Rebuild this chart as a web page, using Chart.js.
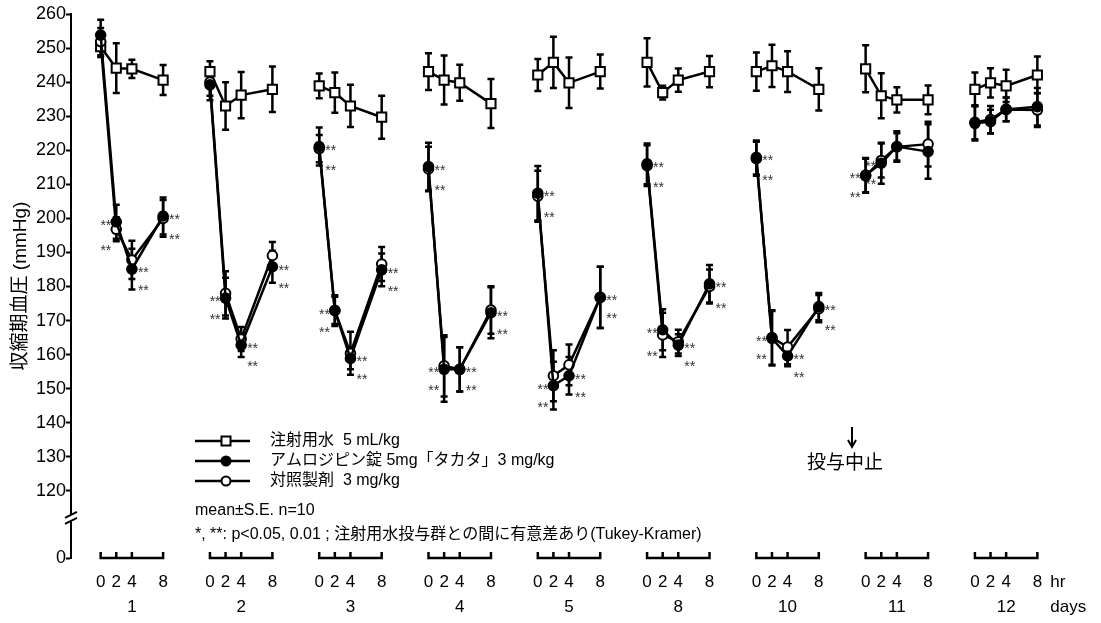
<!DOCTYPE html>
<html>
<head>
<meta charset="utf-8">
<script src="https://cdn.jsdelivr.net/npm/chart.js@4.4.1/dist/chart.umd.min.js"></script>
<style>
  html, body { margin: 0; padding: 0; background: #fff; }
  canvas { display: block; }
</style>
</head>
<body>
<canvas id="bp" width="1101" height="623"></canvas>
<script>
// Study days and sampling times (hours after dosing)
const days = ['1', '2', '3', '4', '5', '8', '10', '11', '12'];
const hours = [0, 2, 4, 8];

// Y axis: 120–260 mmHg, plus a "0" below the axis break
const yTickValues = [120, 130, 140, 150, 160, 170, 180, 190, 200, 210, 220, 230, 240, 250, 260];
const yZeroLabel = '0';

// 注射用水 5 mL/kg — mean and S.E. per day (rows) and hour (columns)
const waterMean = [
  [250.4, 244.1, 243.9, 240.6],
  [243.1, 233.0, 236.2, 237.9],
  [238.9, 236.9, 233.0, 229.7],
  [243.1, 240.6, 239.8, 233.7],
  [242.1, 245.8, 239.8, 243.1],
  [245.8, 236.9, 240.6, 243.1],
  [243.1, 244.8, 243.1, 237.9],
  [243.9, 236.0, 234.8, 234.8],
  [237.9, 239.8, 238.9, 242.1]
];
const waterSE = [
  [3.0, 7.3, 2.7, 4.4],
  [3.0, 7.0, 6.8, 6.7],
  [3.6, 5.9, 6.2, 6.3],
  [5.4, 7.2, 5.3, 7.2],
  [4.7, 7.5, 7.4, 5.0],
  [7.1, 2.0, 3.4, 4.6],
  [5.6, 6.2, 6.0, 6.2],
  [6.9, 6.6, 3.7, 4.2],
  [4.9, 4.3, 4.7, 5.4]
];

// アムロジピン錠 5mg「タカタ」3 mg/kg
const amloMean = [
  [253.8, 199.0, 185.1, 200.7],
  [239.2, 176.6, 162.8, 185.8],
  [221.1, 172.9, 158.9, 184.9],
  [215.2, 155.7, 155.7, 172.3],
  [207.4, 150.9, 153.8, 176.8],
  [216.0, 167.3, 162.8, 180.8],
  [217.9, 164.8, 159.6, 174.1],
  [212.7, 216.2, 221.1, 219.6],
  [227.9, 228.4, 232.0, 232.8]
];
const amloSE = [
  [4.5, 5.0, 6.0, 5.4],
  [4.5, 6.0, 3.5, 4.7],
  [5.6, 4.5, 3.2, 4.8],
  [7.0, 9.5, 6.5, 7.5],
  [8.0, 7.0, 5.5, 9.0],
  [6.0, 6.0, 3.2, 5.5],
  [5.0, 8.0, 3.0, 4.0],
  [5.0, 6.0, 4.5, 8.0],
  [5.0, 3.5, 3.5, 5.5]
];

// 対照製剤 3 mg/kg
const refMean = [
  [251.9, 196.8, 187.8, 200.0],
  [240.0, 178.0, 164.6, 189.1],
  [220.5, 173.0, 160.4, 186.6],
  [214.5, 156.7, 155.7, 173.1],
  [206.5, 153.8, 157.0, 176.8],
  [215.5, 165.8, 163.8, 180.0],
  [217.5, 165.0, 162.2, 173.5],
  [212.5, 217.0, 221.0, 221.8],
  [228.2, 229.0, 232.0, 231.8]
];
const refSE = [
  [4.0, 3.5, 5.6, 5.4],
  [4.0, 6.5, 3.5, 4.0],
  [4.0, 4.0, 6.3, 5.0],
  [6.5, 9.0, 6.5, 7.0],
  [7.5, 7.5, 6.0, 9.0],
  [6.0, 6.5, 3.5, 5.0],
  [5.0, 8.0, 5.0, 4.0],
  [5.0, 5.0, 4.0, 6.6],
  [5.0, 4.0, 3.5, 5.0]
];

// Significance vs. 注射用水 group
const amloSig = [
  ['', '**', '**', '**'],
  ['', '**', '**', '**'],
  ['**', '**', '**', '**'],
  ['**', '**', '**', '**'],
  ['**', '**', '**', '**'],
  ['**', '**', '**', '**'],
  ['**', '**', '**', '**'],
  ['**', '**', '', ''],
  ['', '', '', '']
];
const refSig = [
  ['', '**', '**', '**'],
  ['', '**', '**', '**'],
  ['**', '**', '**', '**'],
  ['**', '**', '**', '**'],
  ['**', '**', '**', '**'],
  ['**', '**', '**', '**'],
  ['**', '**', '**', '**'],
  ['**', '**', '', ''],
  ['', '', '', '']
];

const seriesLabels = ['注射用水  5 mL/kg', 'アムロジピン錠 5mg「タカタ」3 mg/kg', '対照製剤  3 mg/kg'];
const noteLines = ['mean±S.E. n=10', '*, **: p<0.05, 0.01 ; 注射用水投与群との間に有意差あり(Tukey-Kramer)'];
const stopLabel = '投与中止';
const stopDayIndex = 7;      // dosing stopped before day 11
const yTitle = '収縮期血圧 (mmHg)';

// ---- layout helpers ----
const GROUP_SPAN = 14;              // x units between day groups
const Y_BASE = 100.3;               // axis value where the "0" sits below the break
const FONT = "'Liberation Sans', Arial, 'Noto Sans CJK JP', sans-serif";
const LW = 2.5;
const xOf = (i, j) => i * GROUP_SPAN + hours[j];

function toPoints(means) {
  const pts = [];
  means.forEach((row, i) => {
    row.forEach((v, j) => pts.push({ x: xOf(i, j), y: v }));
    if (i < means.length - 1) pts.push({ x: i * GROUP_SPAN + 11, y: null });
  });
  return pts;
}

const errorSets = [
  { mean: waterMean, se: waterSE },
  { mean: refMean, se: refSE },
  { mean: amloMean, se: amloSE }
];

// Asterisks, error bars drawn beneath the lines and markers
const underlayPlugin = {
  id: 'underlay',
  beforeDatasetsDraw(chart) {
    const { ctx, scales: { x, y } } = chart;
    ctx.save();
    // significance marks
    ctx.font = '14px ' + FONT;
    ctx.fillStyle = '#333';
    ctx.textBaseline = 'alphabetic';
    days.forEach((d, i) => {
      hours.forEach((h, j) => {
        const px = x.getPixelForValue(xOf(i, j));
        const yA = y.getPixelForValue(amloMean[i][j]);
        const yR = y.getPixelForValue(refMean[i][j]);
        const left = j === 1 || (i === stopDayIndex && j === 0);
        ctx.textAlign = left ? 'right' : 'left';
        const tx = left ? px - 5 : px + 6;
        if (amloSig[i][j]) ctx.fillText(amloSig[i][j], tx, yA + 8);
        if (refSig[i][j]) ctx.fillText(refSig[i][j], tx, Math.max(yA, yR) + 26);
      });
    });
    // error bars
    ctx.strokeStyle = '#000';
    ctx.lineWidth = LW;
    errorSets.forEach(s => {
      s.mean.forEach((row, i) => row.forEach((m, j) => {
        const px = x.getPixelForValue(xOf(i, j));
        const top = y.getPixelForValue(m + s.se[i][j]);
        const bot = y.getPixelForValue(m - s.se[i][j]);
        ctx.beginPath();
        ctx.moveTo(px, top); ctx.lineTo(px, bot);
        ctx.moveTo(px - 3.5, top); ctx.lineTo(px + 3.5, top);
        ctx.moveTo(px - 3.5, bot); ctx.lineTo(px + 3.5, bot);
        ctx.stroke();
      }));
    });
    ctx.restore();
  }
};

// Axis break, time brackets, hour/day labels, legend, notes
const overlayPlugin = {
  id: 'overlay',
  afterDraw(chart) {
    const { ctx, chartArea, scales: { x, y } } = chart;
    ctx.save();
    const axisX = chartArea.left;

    // "//" break on the y axis
    const yb = y.getPixelForValue(120) + 28;
    ctx.fillStyle = '#fff';
    ctx.beginPath();
    ctx.moveTo(axisX - 6, yb - 1); ctx.lineTo(axisX + 6, yb - 7);
    ctx.lineTo(axisX + 6, yb - 1); ctx.lineTo(axisX - 6, yb + 5);
    ctx.closePath(); ctx.fill();
    ctx.strokeStyle = '#000'; ctx.lineWidth = 2;
    ctx.beginPath();
    ctx.moveTo(axisX - 6, yb - 1); ctx.lineTo(axisX + 6, yb - 7);
    ctx.moveTo(axisX - 6, yb + 5); ctx.lineTo(axisX + 6, yb - 1);
    ctx.stroke();

    // time brackets under each day
    const yBase = y.getPixelForValue(Y_BASE);
    ctx.lineWidth = LW;
    days.forEach((d, i) => {
      const x0 = x.getPixelForValue(xOf(i, 0));
      const x8 = x.getPixelForValue(xOf(i, hours.length - 1));
      ctx.beginPath();
      ctx.moveTo(x0, yBase - 6); ctx.lineTo(x0, yBase); ctx.lineTo(x8, yBase); ctx.lineTo(x8, yBase - 6);
      hours.forEach((h, j) => {
        const px = x.getPixelForValue(xOf(i, j));
        ctx.moveTo(px, yBase); ctx.lineTo(px, yBase - 6);
      });
      ctx.stroke();
    });

    // hour and day labels
    ctx.fillStyle = '#000';
    ctx.font = '17px ' + FONT;
    ctx.textBaseline = 'middle';
    ctx.textAlign = 'center';
    days.forEach((d, i) => {
      hours.forEach((h, j) => ctx.fillText(String(h), x.getPixelForValue(xOf(i, j)), yBase + 24));
      ctx.fillText(d, x.getPixelForValue(xOf(i, 2)), yBase + 49);
    });
    const lastX = x.getPixelForValue(xOf(days.length - 1, hours.length - 1));
    ctx.textAlign = 'left';
    ctx.fillText('hr', lastX + 13, yBase + 24);
    ctx.fillText('days', lastX + 13, yBase + 49);

    // legend
    const lx = 195, lx2 = 250, mx = 226, ly0 = 441, lStep = 20;
    ctx.font = '16px ' + FONT;
    seriesLabels.forEach((t, k) => {
      const ly = ly0 + k * lStep;
      ctx.strokeStyle = '#000'; ctx.lineWidth = LW;
      ctx.beginPath(); ctx.moveTo(lx, ly); ctx.lineTo(lx2, ly); ctx.stroke();
      ctx.lineWidth = 2;
      ctx.beginPath();
      if (k === 0) {
        ctx.fillStyle = '#fff';
        ctx.rect(mx - 4.5, ly - 4.5, 9, 9);
      } else {
        ctx.fillStyle = k === 1 ? '#000' : '#fff';
        ctx.arc(mx, ly, 4.5, 0, Math.PI * 2);
      }
      ctx.fill(); ctx.stroke();
      ctx.fillStyle = '#000';
      ctx.fillText(t, 270, ly);
    });

    // notes
    ctx.font = '16px ' + FONT;
    ctx.fillText(noteLines[0], 195, 511);
    ctx.fillText(noteLines[1], 195, 535);

    // dosing stopped marker
    const ax = 852;
    ctx.strokeStyle = '#000'; ctx.lineWidth = 2;
    ctx.beginPath(); ctx.moveTo(ax, 427); ctx.lineTo(ax, 445); ctx.stroke();
    ctx.beginPath(); ctx.moveTo(ax - 4, 440); ctx.lineTo(ax, 447); ctx.lineTo(ax + 4, 440); ctx.stroke();
    ctx.textAlign = 'center';
    ctx.font = '19px ' + FONT;
    ctx.fillText(stopLabel, 845, 464);
    ctx.restore();
  }
};

const lineStyle = { borderColor: '#000', borderWidth: LW, pointBorderColor: '#000', pointBorderWidth: 2, spanGaps: false, tension: 0 };

new Chart(document.getElementById('bp'), {
  type: 'line',
  data: {
    datasets: [
      Object.assign({ label: seriesLabels[0], data: toPoints(waterMean), pointStyle: 'rect', pointRadius: 6.5, pointBackgroundColor: '#fff', order: 3 }, lineStyle),
      Object.assign({ label: seriesLabels[2], data: toPoints(refMean), pointStyle: 'circle', pointRadius: 4.8, pointBackgroundColor: '#fff', order: 2 }, lineStyle),
      Object.assign({ label: seriesLabels[1], data: toPoints(amloMean), pointStyle: 'circle', pointRadius: 4.8, pointBackgroundColor: '#000', order: 1 }, lineStyle)
    ]
  },
  options: {
    responsive: false,
    animation: false,
    devicePixelRatio: 1,
    layout: { padding: { top: 14, bottom: 65, left: 0, right: 41 } },
    plugins: { legend: { display: false }, tooltip: { enabled: false } },
    scales: {
      x: { type: 'linear', display: false, min: -3.8, max: 122.9 },
      y: {
        type: 'linear',
        min: Y_BASE,
        max: 260,
        afterFit: s => { s.width = 71; },
        afterBuildTicks: s => { s.ticks = [Y_BASE].concat(yTickValues).map(v => ({ value: v })); },
        ticks: {
          color: '#000',
          font: { family: FONT, size: 18 },
          padding: 0,
          callback: v => (v < yTickValues[0] ? yZeroLabel : String(v))
        },
        grid: { display: true, drawOnChartArea: false, drawTicks: true, tickLength: 5, tickWidth: 2, tickColor: '#000' },
        border: { display: true, color: '#000', width: 2 },
        title: { display: true, text: yTitle, color: '#000', font: { family: FONT, size: 19 }, padding: { top: 9, bottom: 0 } }
      }
    }
  },
  plugins: [underlayPlugin, overlayPlugin]
});
</script>
</body>
</html>
